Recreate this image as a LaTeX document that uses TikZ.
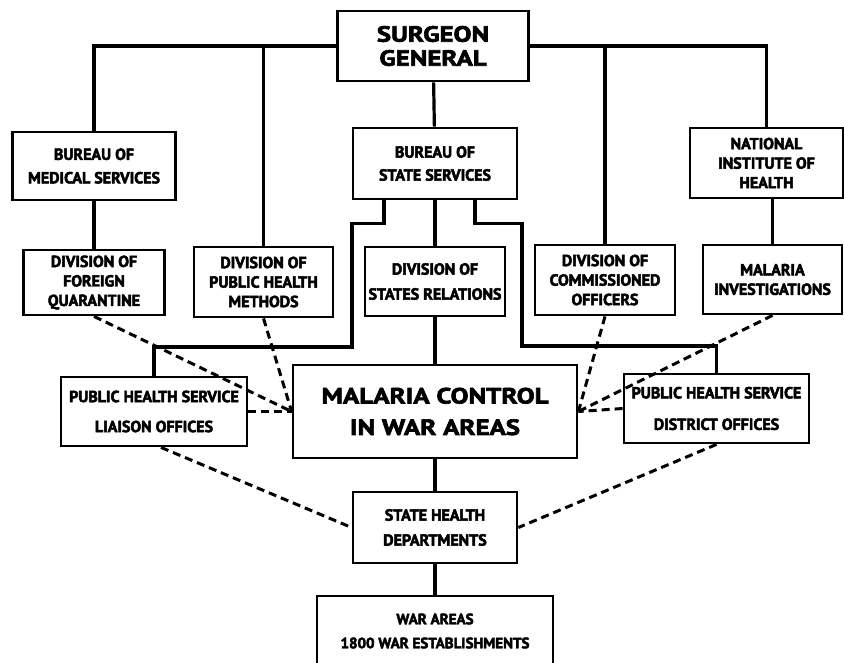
\documentclass[tikz,border=0pt]{standalone}
\usepackage{fontspec}
\setmainfont{PT Sans}
\newfontfamily\boxfont{PT Sans Bold}[FakeBold=3]
\newfontfamily\bigfont{PT Sans Bold}[FakeStretch=1.22,FakeBold=3]
\begin{document}
\begin{tikzpicture}[x=1pt,y=-1pt,
    box/.style={draw,line width=2.8pt,align=center,inner sep=0pt,
      font=\boxfont\fontsize{16}{19.5}\selectfont},
    bigbox/.style={box,font=\bigfont\fontsize{22}{24}\selectfont},
    link/.style={line width=3.2pt},
    dashlink/.style={line width=3pt,dash pattern=on 8pt off 5pt}]
  \useasboundingbox (0,0) rectangle (844,662);
  \node[bigbox,minimum width=191pt,minimum height=70pt] (sg) at (433,46) {SURGEON\\GENERAL};
  \node[box,minimum width=163pt,minimum height=68pt] (bms) at (94,166) {BUREAU OF\\[4pt]MEDICAL SERVICES};
  \node[box,minimum width=164pt,minimum height=71pt] (bss) at (435,163.5) {BUREAU OF\\[3.5pt]STATE SERVICES};
  \node[box,minimum width=153pt,minimum height=70pt] (nih) at (766.5,163) {NATIONAL\\INSTITUTE OF\\HEALTH};
  \node[box,minimum width=141pt,minimum height=65pt] (dfq) at (94,282.5) {DIVISION OF\\FOREIGN\\QUARANTINE};
  \node[box,minimum width=139pt,minimum height=70pt] (dph) at (263.5,282) {DIVISION OF\\PUBLIC HEALTH\\METHODS};
  \node[box,minimum width=140pt,minimum height=69pt] (dsr) at (435,281.5) {DIVISION OF\\[5.5pt]STATES RELATIONS};
  \node[box,minimum width=140pt,minimum height=70pt] (dco) at (605,280) {DIVISION OF\\COMMISSIONED\\OFFICERS};
  \node[box,minimum width=139pt,minimum height=69pt] (mi) at (772.5,279.5) {MALARIA\\INVESTIGATIONS};
  \node[box,minimum width=186pt,minimum height=69pt] (ll) at (154,411.5) {PUBLIC HEALTH SERVICE\\[10.5pt]LIAISON OFFICES};
  \node[bigbox,minimum width=284pt,minimum height=93pt,
    font=\bigfont\fontsize{22}{31.5}\selectfont] (mc) at (435,411.5) {MALARIA CONTROL\\IN WAR AREAS};
  \node[box,minimum width=185pt,minimum height=69pt] (dist) at (716.5,408.5) {PUBLIC HEALTH SERVICE\\[12pt]DISTRICT OFFICES};
  \node[box,minimum width=164pt,minimum height=71pt] (sh) at (435,527.5) {STATE HEALTH\\[5.5pt]DEPARTMENTS};
  \node[box,minimum width=236pt,minimum height=70pt,
    font=\boxfont\fontsize{15}{24}\selectfont] (wa) at (435,631) {WAR AREAS\\1800 WAR ESTABLISHMENTS};
  \draw[link] (sg.west) -| (bms.north);
  \draw[link] (sg.east) -| (nih.north);
  \draw[link] (dph.north |- sg.west) -- (dph.north);
  \draw[link] (dco.north |- sg.east) -- (dco.north);
  \draw[link] (sg) -- (bss);
  \draw[link] (bms) -- (dfq);
  \draw[link] (nih.south -| mi.north) -- (mi.north);
  \draw[link] (bss) -- (dsr);
  \draw[link] (dsr) -- (mc);
  \draw[link] (bss.south) ++(-51,0) -- ++(0,23) -| (352,347) -| (ll.north);
  \draw[link] (bss.south) ++(40,0) -- ++(0,23) -| (522,346) -| (dist.north);
  \draw[link] (mc) -- (sh);
  \draw[link] (sh) -- (wa);
  \draw[dashlink] (dfq.south) -- (mc.west);
  \draw[dashlink] (dph.south) -- (mc.west);
  \draw[dashlink] (ll.east) -- (mc.west);
  \draw[dashlink] (dco.south) -- (mc.east);
  \draw[dashlink] (mi.south) -- (mc.east);
  \draw[dashlink] (dist.west) -- (mc.east);
  \draw[dashlink] ([xshift=7pt]ll.south) -- (sh.west);
  \draw[dashlink] (dist.south) -- (sh.east);
\end{tikzpicture}
\end{document}
